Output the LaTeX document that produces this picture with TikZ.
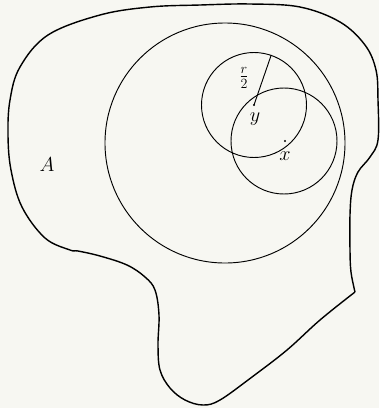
\documentclass[tikz,border=0pt]{standalone}
\usepackage{amsmath,amssymb}
\usepackage{xcolor}
\usetikzlibrary{positioning}
\definecolor{paper}{RGB}{247,247,242}
\begin{document}
\begin{tikzpicture}[
  x=0.03cm, y=-0.03cm,
  disc/.style={draw, circle, line width=0.8pt, inner sep=0pt},
  outline/.style={line width=1.2pt, line join=round},
  lbl/.style={font=\fontsize{17}{20}\selectfont, inner sep=1pt},
  pt/.style={fill, circle, inner sep=0pt, minimum size=2pt},
]
\fill[paper] (0,0) rectangle (379,408);
\useasboundingbox (0,0) rectangle (379,408);

% the set A
\draw[outline] plot[smooth, tension=0.6] coordinates {
  (355,292) (320,320) (287,350) (252,377) (220,400) (203,405) (185,400)
  (170,388) (160,370) (158,345) (159,315) (155,290) (145,277) (127,265)
  (100,256) (78,251) (70,250) (45,238) (22,207) (11,170) (8,135) (10,100)
  (20,67) (48,35) (100,15) (150,7) (200,5) (250,4) (300,7) (340,22)
  (365,45) (376,70) (378,100) (378,140) (370,157) (358,172) (352,190)
  (350,215) (350,250) (351,272) (355,292)};

\node[disc, minimum size=7.2cm] (big) at (225,143) {};
\node[disc, minimum size=3.15cm] (ycirc) at (254,105) {};
\node[disc, minimum size=3.18cm] (xcirc) at (284,141) {};

\node[pt] (y) at (254,105) {};
\node[pt] (x) at (285,141) {};
\draw[line width=0.8pt] (y.center) -- (ycirc.71);

\node[lbl] (ylbl) at (255,119) {$y$};
\node[lbl] (xlbl) at (285,156) {$x$};
\node[lbl] (rlbl) at (244,78) {$\frac{r}{2}$};
\node[lbl] (alab) at (47,165) {$A$};
\end{tikzpicture}
\end{document}
